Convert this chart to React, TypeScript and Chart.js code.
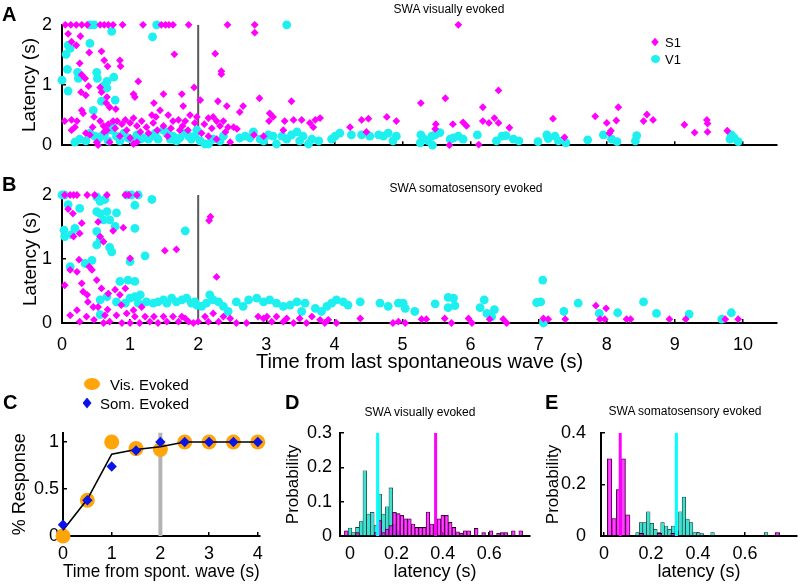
import React, { useEffect, useRef } from 'react';
import { Chart, registerables } from 'chart.js';
Chart.register(...registerables);

const FONT = '"Liberation Sans", Arial, Helvetica, sans-serif';
type P = [number, number];

// ---------- Panel A : SWA visually evoked ----------
const aS1: P[] = [
  [0.05,2],[0.13,2],[0.21,2],[0.29,2],[0.37,2],[0.56,2],[0.62,2],[0.68,2],[0.75,2],[0.89,2],[1.19,2],[1.46,2],[1.52,2],[1.57,2],[1.63,2],[1.86,2],[2.43,2],[2.83,2],[2.83,1.87],[5.82,2],
  [0.09,1.85],[0.14,1.72],[0.21,1.66],[0.27,1.81],[0.40,1.54],[0.58,1.56],[0.62,1.41],[0.67,1.31],[0.85,1.41],[0.86,1.31],[1.65,1.51],[2.25,1.52],[2.34,1.23],[2.34,1.18],
  [0.26,1.36],[0.34,1.11],[0.29,1.17],[0.39,0.98],[0.28,0.88],[0.35,0.83],[0.56,0.96],[0.58,0.88],[0.66,0.80],[0.65,0.70],[0.70,0.63],[0.79,0.60],[1.12,1.06],[1.05,0.85],[1.07,0.80],[1.35,0.70],[1.49,0.85],[1.76,0.85],[1.78,0.65],[1.94,0.96],[2.03,0.75],[2.29,0.73],[2.42,0.65],[2.66,0.65],[2.61,0.55],[2.90,0.78],[3.37,0.73],[3.05,0.53],[3.10,0.47],
  [0.04,0.40],[0.14,0.42],[0.22,0.40],[0.29,0.58],[0.31,0.53],[0.47,0.47],[0.56,0.40],[0.61,0.32],[0.68,0.35],[0.75,0.40],[0.81,0.40],[0.88,0.35],[0.93,0.42],[1.00,0.37],[1.05,0.45],[1.10,0.32],[1.17,0.40],[1.24,0.30],[1.32,0.50],[1.34,0.37],[1.38,0.47],[1.44,0.58],[1.49,0.32],[1.56,0.50],[1.63,0.40],[1.71,0.42],[1.77,0.32],[1.81,0.40],[1.88,0.50],[1.95,0.37],[1.98,0.47],[2.09,0.35],[2.15,0.45],[2.22,0.47],[2.27,0.40],[2.32,0.32],[2.37,0.40],[2.44,0.30],[2.52,0.30],[2.57,0.27],[2.82,0.17],[2.96,0.15],[3.04,0.40],[3.27,0.40],[3.40,0.42],[3.52,0.42],[3.64,0.37],[3.72,0.42],[3.79,0.45],[3.69,0.30],[3.25,0.25],
  [0.14,0.25],[0.19,0.30],[0.41,0.17],[0.51,0.05],[0.53,0.0],[0.70,0.05],[0.66,0.25],[0.85,0.15],[1.05,0.02],[1.10,0.05],[1.27,0.20],[1.73,0.25],[2.15,0.15],[2.27,0.10],[2.47,0.05],
  [0.45,0.30],[0.62,0.22],[0.78,0.28],[0.95,0.25],[1.15,0.22],[1.40,0.25],[1.60,0.28],[1.85,0.25],[2.05,0.20],[2.20,0.28],[2.40,0.22],[0.35,0.20],[1.00,0.12],[1.55,0.15],
  [4.23,0.30],[4.40,0.42],[4.50,0.44],[4.77,0.47],[4.91,0.40],[4.47,0.22],
  [5.27,0.70],[5.63,0.78],[5.48,0.27],[5.49,0.35],[5.69,0.0],[5.74,0.35],[5.89,0.38],[5.94,0.32],[6.12,0.01],[6.18,0.63],[6.18,0.40],[6.27,0.37],[6.35,0.45],[6.41,0.37],[6.41,0.91],[6.57,0.29],[7.21,0.44],[7.38,0.13],[7.83,0.48],[8.00,0.37],[8.06,0.24],[8.04,0.20],[8.14,0.41],[8.17,0.63],[8.54,0.40],[8.59,0.51],[8.68,0.42],[9.14,0.34],[9.29,0.21],[9.47,0.42],[9.48,0.36],[9.48,0.22],[9.77,0.24],
];
const aV1: P[] = [
  [0.41,2],[0.47,2],[1.39,2],[3.30,2],[0.73,1.89],[1.33,1.80],
  [0.0,1.08],[0.06,1.51],[0.09,1.66],[0.12,1.61],[0.08,1.26],[0.09,0.90],[0.41,1.69],[0.51,1.21],[0.52,1.11],[0.66,1.06],[0.76,1.13],[0.78,0.75],[0.58,0.73],[0.46,0.58],[0.23,1.21],[0.24,1.11],[0.61,0.98],[0.66,0.95],
  [0.19,0.05],[0.26,0.10],[0.35,0.07],[0.41,0.20],[0.48,0.15],[0.53,0.10],[0.58,0.15],[0.63,0.20],[0.68,0.07],[0.73,0.25],[0.75,0.30],[0.80,0.15],[0.85,0.07],[0.91,0.20],[0.97,0.12],[1.02,0.10],[1.10,0.17],[1.15,0.10],[1.19,0.12],[1.27,0.10],[1.32,0.15],[1.37,0.20],[1.41,0.10],[1.49,0.25],[1.54,0.20],[1.59,0.10],[1.63,0.15],[1.68,0.07],[1.73,0.12],[1.81,0.20],[1.86,0.15],[1.90,0.10],[1.95,0.15],[1.98,0.25],[2.03,0.07],[2.10,0.02],[2.15,0.02],[2.22,0.10],[2.32,0.07],[2.37,0.15],[2.61,0.12],[2.69,0.15],[2.76,0.12],[2.81,0.22],[2.91,0.10],[2.96,0.07],[3.03,0.17],[3.10,0.15],[3.15,0.02],[3.23,0.15],[3.30,0.10],[3.37,0.17],[3.45,0.22],[3.49,0.07],[3.54,0.15],[3.62,0.02],[3.67,0.10],[3.77,0.07],[3.96,0.10],[4.01,0.15],[4.08,0.20],[4.25,0.17],[4.40,0.17],[4.52,0.15],[4.65,0.17],[4.72,0.15],[4.79,0.20],[4.86,0.07],[4.91,0.15],
  [5.27,0.17],[5.26,0.04],[5.31,0.11],[5.38,0.07],[5.43,0.15],[5.44,0.0],[5.48,0.17],[5.55,0.21],[5.70,0.10],[5.75,0.12],[5.82,0.15],[5.89,0.10],[6.10,0.17],[6.38,0.07],[6.46,0.15],[6.52,0.16],[6.63,0.10],[6.71,0.07],[6.99,0.06],[7.12,0.17],[7.14,0.11],[7.24,0.15],[7.29,0.07],[7.40,0.04],[7.72,0.09],[7.95,0.17],[8.07,0.10],[8.15,0.06],[8.44,0.16],[8.42,0.07],[9.83,0.17],[9.87,0.12],[9.81,0.10],[9.93,0.06],
];

// ---------- Panel B : SWA somatosensory evoked ----------
const bS1: P[] = [
  [0.04,2],[0.12,2],[0.17,2],[0.22,2],[0.37,2],[0.48,2],[0.66,2],[0.93,2],[0.98,2],[1.10,2],
  [0.09,1.78],[0.16,1.71],[0.29,1.56],[0.17,1.35],[0.26,1.40],[0.53,1.58],[0.56,1.35],[0.61,1.27],[0.75,1.44],[0.90,1.49],[1.51,1.13],[1.68,1.15],[2.18,1.66],[2.16,1.60],[2.27,0.72],[1.00,1.01],[0.25,0.99],
  [0.04,0.59],[0.12,0.83],[0.22,0.80],[0.40,0.88],[0.44,0.83],[0.51,0.67],[0.29,0.62],[0.31,0.49],[0.37,0.44],[0.38,0.33],[0.46,0.25],[0.53,0.25],[0.58,0.54],[0.68,0.46],[0.67,0.21],[0.78,0.52],[0.85,0.44],[0.93,0.54],[0.87,0.28],[1.05,0.20],[1.17,0.25],
  [0.12,0.12],[0.22,0.20],[0.26,0.02],[0.36,0.10],[0.47,0.05],[0.61,0.0],[0.63,0.12],[0.70,0.02],[0.80,0.12],[0.88,0.0],[0.95,0.15],[1.00,0.0],[1.07,0.10],[1.14,0.0],[1.22,0.10],[1.29,0.02],[1.35,0.10],[1.41,0.0],[1.49,0.10],[1.54,0.02],[1.63,0.10],[1.71,0.02],[1.76,0.10],[1.81,0.07],[1.86,0.02],[1.93,0.0],[2.00,0.02],[2.10,0.10],[2.15,0.02],[2.22,0.15],[2.30,0.02],[2.37,0.10],[2.47,0.07],[2.56,0.0],[2.71,0.0],[2.88,0.10],[2.96,0.07],[3.01,0.10],[3.08,0.02],[3.15,0.10],[3.25,0.02],[3.30,0.07],[3.40,0.0],[3.49,0.07],[3.59,0.0],[3.67,0.10],[3.79,0.05],[3.86,0.0],[3.91,0.05],[4.03,0.0],[4.38,0.07],[4.86,0.0],[4.94,0.02],
  [5.04,0.0],[5.28,0.06],[5.35,0.06],[5.62,0.07],[5.72,0.0],[5.97,0.07],[6.02,0.0],[6.28,0.06],[6.48,0.06],[6.53,0.0],[7.07,0.07],[7.14,0.06],[7.39,0.06],[7.84,0.27],[7.99,0.23],[7.90,0.06],[7.97,0.06],[8.29,0.06],[8.35,0.06],[8.92,0.06],[9.16,0.06],[9.74,0.06],[9.93,0.06],
];
const bV1: P[] = [
  [0.0,2],[0.04,2],[0.95,2],[1.02,2],[1.12,2],[1.32,1.93],[0.51,1.97],[0.56,1.90],[0.63,1.93],[0.09,1.85],[0.26,1.79],[0.51,1.74],[0.56,1.71],[0.66,1.74],[0.80,1.72],[0.61,1.61],[0.70,1.61],[0.78,1.51],[0.03,1.45],[0.19,1.48],[0.04,1.35],[0.14,1.38],[0.51,1.43],[0.51,1.22],[0.56,1.30],[1.07,1.48],[1.81,1.44],[0.70,1.18],[0.73,1.11],[1.07,1.84],[1.22,1.05],[1.00,0.96],[0.34,0.93],[0.44,0.98],[0.12,0.88],[0.85,0.65],[0.97,0.67],[1.07,0.65],
  [0.56,0.36],[0.66,0.41],[0.80,0.33],[0.93,0.31],[1.00,0.39],[1.07,0.41],[1.15,0.44],[1.12,0.31],[1.24,0.33],[1.34,0.31],[1.41,0.33],[1.49,0.36],[1.54,0.31],[1.61,0.39],[1.68,0.33],[1.76,0.36],[1.83,0.39],[1.90,0.31],[1.95,0.33],[1.98,0.28],[2.05,0.26],[2.12,0.31],[2.17,0.44],[2.22,0.36],[2.30,0.33],[2.37,0.26],[2.44,0.18],[2.56,0.33],[2.66,0.26],[2.74,0.36],[2.86,0.39],[2.96,0.33],[3.05,0.36],[3.15,0.31],[3.25,0.26],[3.35,0.28],[3.45,0.33],[3.52,0.18],[3.57,0.31],[3.72,0.23],[3.81,0.18],[3.89,0.26],[3.96,0.31],[4.03,0.36],[4.13,0.33],[4.20,0.28],[4.38,0.33],[4.67,0.31],[4.79,0.26],[4.94,0.31],[0.56,0.13],
  [5.01,0.31],[5.04,0.23],[5.18,0.18],[5.48,0.30],[5.67,0.40],[5.75,0.39],[5.67,0.24],[5.77,0.27],[6.14,0.24],[6.20,0.36],[6.24,0.15],[6.35,0.21],[6.31,0.10],[6.97,0.32],[7.03,0.33],[7.06,0.67],[7.07,0.0],[7.37,0.18],[7.58,0.31],[7.89,0.15],[8.16,0.16],[8.54,0.33],[8.73,0.15],[9.21,0.14],[9.69,0.06],[9.83,0.16],
];
const abXTicks = [0, 1, 2, 3, 4, 5, 6, 7, 8, 9, 10];
const abYTicks = [0, 1, 2];
const abMarkerX = 2;

// ---------- Panel C ----------
const cTimes = [0, 0.5, 1, 1.5, 2, 2.5, 3, 3.5, 4];
const cVis = [0, 0.38, 1.0, 0.93, 0.92, 1, 1, 1, 1];
const cSom = [0.12, 0.38, 0.74, 0.91, 1.0, 1, 1, 1, 1];
const cMean = [0.06, 0.39, 0.87, 0.92, 0.95, 1, 1, 1, 1];
const cXTicks = [0, 1, 2, 3, 4];
const cYTicks = [0, 0.5, 1];
const cMarkerX = 2;

// ---------- Panel D (visually evoked latency histograms) ----------
const dV1Start = -0.008, dV1Width = 0.016;
const dV1 = [0.023, 0.01, 0.025, 0.042, 0.19, 0.064, 0.069, 0.03, 0.122, 0.064, 0.085, 0.14, 0.035, 0.015];
const dS1Start = -0.024, dS1Width = 0.016;
const dS1 = [0.015, 0, 0, 0.01, 0, 0, 0, 0, 0.01, 0.045, 0.01, 0.02, 0.03, 0.069, 0.065, 0.06, 0.05, 0.05, 0.035, 0.025, 0.025, 0.025, 0.07, 0.035, 0.033, 0.05, 0.06, 0.06, 0.04, 0.025, 0.012, 0.008, 0.015, 0.015, 0, 0.022, 0, 0.01, 0, 0.015, 0, 0.008, 0.01, 0.01, 0, 0.015, 0, 0.015];
const dV1Median = 0.119;
const dS1Median = 0.369;
const dXTicks = [0, 0.2, 0.4, 0.6];
const dYTicks = [0, 0.1, 0.2, 0.3];

// ---------- Panel E (somatosensory evoked latency histograms) ----------
const eV1Start = 0.135, eV1Width = 0.0152;
const eV1 = [0.013, 0.052, 0.052, 0.094, 0.049, 0.026, 0.013, 0.052, 0.039, 0.026, 0.039, 0.02, 0.094, 0.151, 0.066, 0.052, 0.013, 0.013, 0.009, 0, 0, 0.013, 0, 0, 0, 0, 0, 0, 0, 0, 0, 0, 0, 0, 0, 0, 0.013];
const eS1Start = 0.014, eS1Width = 0.0193;
const eS1 = [0.30, 0.068, 0.18, 0.30, 0.082, 0, 0, 0.01, 0, 0, 0, 0.01, 0, 0, 0.01, 0, 0, 0, 0, 0, 0, 0, 0, 0, 0, 0, 0, 0, 0, 0, 0, 0, 0, 0, 0, 0, 0, 0.013];
const eV1Median = 0.308;
const eS1Median = 0.069;
const eXTicks = [0, 0.2, 0.4, 0.6];
const eYTicks = [0, 0.2, 0.4];

// ---------- colours ----------
const MAG = '#ff00ff';
const CYA = 'rgb(30,240,240)';
const HIST_CYA = 'rgb(64,224,208)';
const HIST_MAG = 'rgba(255,0,255,0.75)';
const HIST_EDGE = '#000';

// ---------- helpers ----------
type Box = { cl: number; ct: number; cw: number; ch: number; L: number; T: number; R: number; B: number };

const pts = (arr: P[]) => arr.map(([x, y]) => ({ x, y }));
const hist = (start: number, width: number, h: number[]) =>
  h.map((v, i) => ({ x: start + width * (i + 0.5), y: v })).filter((p) => p.y > 0);
const vline = (x: number, y0: number, y1: number) => [{ x, y: y0 }, { x, y: y1 }];
const fixedTicks = (ticks: number[]) => (s: any) => { s.ticks = ticks.map((v) => ({ value: v })); };

function axis(o: {
  min: number; max: number; ticks: number[]; labels: boolean; pad: number; fit: (s: any) => void;
  title?: string; tSize?: number; tPad?: any; display?: boolean; position?: string;
}) {
  return {
    type: 'linear',
    position: o.position,
    display: o.display === undefined ? true : o.display,
    min: o.min,
    max: o.max,
    offset: false,
    afterBuildTicks: fixedTicks(o.ticks),
    afterFit: o.fit,
    ticks: {
      display: o.labels, padding: o.pad, color: '#000', autoSkip: false, maxRotation: 0,
      font: { family: FONT, size: 18 }, callback: (v: any) => String(v),
    },
    grid: { display: true, offset: false, drawOnChartArea: false, drawTicks: true, tickLength: -4, color: '#000', lineWidth: 1.5 },
    border: { display: true, color: '#000', width: 2 },
    title: o.title
      ? { display: true, text: o.title, color: '#000', font: { family: FONT, size: o.tSize || 18 }, padding: o.tPad }
      : { display: false },
  };
}

function baseOptions(b: Box, scales: any) {
  return {
    responsive: false,
    maintainAspectRatio: false,
    animation: false,
    events: [],
    layout: { padding: { left: 0, top: b.T - b.ct, right: b.cl + b.cw - b.R, bottom: 0 } },
    plugins: { legend: { display: false }, tooltip: { enabled: false }, title: { display: false } },
    scales,
  };
}
const fitW = (b: Box) => (s: any) => { s.width = b.L - b.cl; };
const fitH = (b: Box) => (s: any) => { s.height = b.ct + b.ch - b.B; };

// ---------- chart configs ----------
function scatterConfig(b: Box, s1: P[], v1: P[], showX: boolean, yTitlePad: number) {
  return {
    type: 'scatter',
    data: {
      datasets: [
        { data: pts(s1), pointStyle: 'rectRot', pointRadius: 3.9, backgroundColor: MAG, borderWidth: 0, clip: false },
        { data: pts(v1), pointStyle: 'circle', pointRadius: 4.4, backgroundColor: CYA, borderWidth: 0, clip: false },
        { data: vline(abMarkerX, 0, 2), showLine: true, borderColor: '#5a5a5a', borderWidth: 2, pointRadius: 0 },
      ],
    },
    options: baseOptions(b, {
      x: axis({
        min: 0, max: 10.5, ticks: abXTicks, labels: showX, pad: 15, fit: fitH(b),
        title: showX ? 'Time from last spontaneous wave (s)' : undefined, tSize: 20, tPad: { top: 0, bottom: 6 },
      }),
      y: axis({ min: 0, max: 2, ticks: abYTicks, labels: true, pad: 14, fit: fitW(b), title: 'Latency (s)', tSize: 19, tPad: { top: yTitlePad, bottom: 0 } }),
    }),
  };
}

function configC(b: Box) {
  return {
    type: 'line',
    data: {
      datasets: [
        { data: cTimes.map((x, i) => ({ x, y: cSom[i] })), showLine: false, pointStyle: 'rectRot', pointRadius: 5.2, backgroundColor: '#0a14e6', borderWidth: 0, clip: false },
        { data: cTimes.map((x, i) => ({ x, y: cMean[i] })), borderColor: '#000', borderWidth: 1.6, pointRadius: 0, clip: false },
        { data: cTimes.map((x, i) => ({ x, y: cVis[i] })), showLine: false, pointStyle: 'circle', pointRadius: 7.5, backgroundColor: '#ffa50a', borderWidth: 0, clip: false },
        { data: vline(cMarkerX, 0, 1.1), borderColor: '#b4b4b4', borderWidth: 4, pointRadius: 0 },
      ],
    },
    options: baseOptions(b, {
      x: axis({ min: 0, max: 4.04, ticks: cXTicks, labels: true, pad: 11, fit: fitH(b), title: 'Time from spont. wave (s)', tSize: 19, tPad: { top: 0, bottom: 0.6 } }),
      y: axis({ min: 0, max: 1.1, ticks: cYTicks, labels: true, pad: 8, fit: fitW(b), title: '% Response', tSize: 18, tPad: { top: 9.2, bottom: 0 } }),
    }),
  };
}

function histConfig(b: Box, o: {
  xmin: number; xmax: number; ymax: number; xTicks: number[]; yTicks: number[]; yPad: number;
  v1: { x: number; y: number }[]; s1: { x: number; y: number }[]; v1Med: number; s1Med: number;
}) {
  return {
    type: 'bar',
    data: {
      datasets: [
        { type: 'line', data: vline(o.s1Med, 0, o.ymax), borderColor: MAG, borderWidth: 3, pointRadius: 0, xAxisID: 'x' },
        { type: 'line', data: vline(o.v1Med, 0, o.ymax), borderColor: '#00ffff', borderWidth: 3, pointRadius: 0, xAxisID: 'x' },
        { type: 'bar', data: o.s1, xAxisID: 'x2', backgroundColor: HIST_MAG, borderColor: HIST_EDGE, borderWidth: 0.55, grouped: false, categoryPercentage: 1, barPercentage: 1 },
        { type: 'bar', data: o.v1, xAxisID: 'x', backgroundColor: HIST_CYA, borderColor: HIST_EDGE, borderWidth: 0.55, grouped: false, categoryPercentage: 1, barPercentage: 1 },
      ],
    },
    options: baseOptions(b, {
      x: axis({ min: o.xmin, max: o.xmax, ticks: o.xTicks, labels: true, pad: 11, fit: fitH(b), title: 'latency (s)', tSize: 18, tPad: { top: 0, bottom: 1.2 }, position: 'bottom' }),
      x2: {
        type: 'linear', display: false, position: 'bottom', min: o.xmin, max: o.xmax, offset: false,
        grid: { offset: false }, afterBuildTicks: fixedTicks(o.xTicks),
      },
      y: axis({ min: 0, max: o.ymax, ticks: o.yTicks, labels: true, pad: o.yPad, fit: fitW(b), title: 'Probability', tSize: 17, tPad: { top: 7.8, bottom: 0 } }),
    }),
  };
}

// ---------- boxes (canvas + plot area in page pixels) ----------
const boxA: Box = { cl: 0, ct: 0, cw: 800, ch: 170, L: 62, T: 21, R: 777, B: 153 };
const boxB: Box = { cl: 0, ct: 160, cw: 800, ch: 220, L: 62, T: 195, R: 777, B: 323 };
const boxC: Box = { cl: 0, ct: 400, cw: 275, ch: 184, L: 63, T: 432.6, R: 259.7, B: 536 };
const boxD: Box = { cl: 275, ct: 400, cw: 260, ch: 184, L: 340, T: 433, R: 530, B: 536 };
const boxE: Box = { cl: 535, ct: 400, cw: 265, ch: 184, L: 601, T: 433, R: 797, B: 536 };

function ChartCanvas({ box, make }: { box: Box; make: () => any }) {
  const ref = useRef<HTMLCanvasElement | null>(null);
  useEffect(() => {
    if (!ref.current) return;
    const chart = new Chart(ref.current, make());
    return () => chart.destroy();
  }, []);
  return (
    <canvas
      ref={ref}
      width={box.cw}
      height={box.ch}
      style={{ position: 'absolute', left: box.cl, top: box.ct, width: box.cw, height: box.ch }}
    />
  );
}

function Txt({ x, base, size, bold, center, children }: any) {
  return (
    <div
      style={{
        position: 'absolute', left: x, top: base - 0.8465 * size, fontSize: size, lineHeight: `${size}px`,
        fontFamily: FONT, fontWeight: bold ? 700 : 400, whiteSpace: 'nowrap', color: '#000',
        transform: center ? 'translateX(-50%)' : undefined,
      }}
    >
      {children}
    </div>
  );
}

function Mark({ cx, cy, w, h, color, diamond }: any) {
  return (
    <div
      style={{
        position: 'absolute', left: cx - w / 2, top: cy - h / 2, width: w, height: h, background: color,
        borderRadius: diamond ? 0 : '50%',
        clipPath: diamond ? 'polygon(50% 0, 100% 50%, 50% 100%, 0 50%)' : undefined,
      }}
    />
  );
}

export default function App() {
  return (
    <div style={{ position: 'fixed', left: 0, top: 0, width: 800, height: 584, background: '#fff', overflow: 'hidden' }}>
      <ChartCanvas box={boxA} make={() => scatterConfig(boxA, aS1, aV1, false, 18.6)} />
      <ChartCanvas box={boxB} make={() => scatterConfig(boxB, bS1, bV1, true, 19.6)} />
      <ChartCanvas box={boxC} make={() => configC(boxC)} />
      <ChartCanvas
        box={boxD}
        make={() => histConfig(boxD, {
          xmin: -0.0431, xmax: 0.7759, ymax: 0.3, xTicks: dXTicks, yTicks: dYTicks, yPad: 12,
          v1: hist(dV1Start, dV1Width, dV1), s1: hist(dS1Start, dS1Width, dS1), v1Med: dV1Median, s1Med: dS1Median,
        })}
      />
      <ChartCanvas
        box={boxE}
        make={() => histConfig(boxE, {
          xmin: -0.0128, xmax: 0.8213, ymax: 0.4, xTicks: eXTicks, yTicks: eYTicks, yPad: 19,
          v1: hist(eV1Start, eV1Width, eV1), s1: hist(eS1Start, eS1Width, eS1), v1Med: eV1Median, s1Med: eS1Median,
        })}
      />

      {/* panel letters */}
      <Txt x={2} base={20.5} size={20} bold>A</Txt>
      <Txt x={2} base={191} size={20} bold>B</Txt>
      <Txt x={3} base={408.5} size={20} bold>C</Txt>
      <Txt x={285} base={408.5} size={20} bold>D</Txt>
      <Txt x={545} base={408.5} size={20} bold>E</Txt>

      {/* panel titles */}
      <Txt x={449} base={13.3} size={12} center>SWA visually evoked</Txt>
      <Txt x={466} base={192.5} size={12} center>SWA somatosensory evoked</Txt>
      <Txt x={420} base={416.5} size={12} center>SWA visually evoked</Txt>
      <Txt x={685} base={415} size={12} center>SWA somatosensory evoked</Txt>

      {/* legend A */}
      <Mark cx={655} cy={42} w={7.5} h={8.5} color={MAG} diamond />
      <Txt x={665} base={46.7} size={13}>S1</Txt>
      <Mark cx={655} cy={59} w={9} h={8} color={CYA} />
      <Txt x={665} base={63.7} size={13}>V1</Txt>

      {/* legend C */}
      <Mark cx={92} cy={384} w={16} h={12} color="#ffa50a" />
      <Txt x={110} base={389.4} size={15}>Vis. Evoked</Txt>
      <Mark cx={87} cy={403} w={9} h={11} color="#0a14e6" diamond />
      <Txt x={100} base={408.4} size={15}>Som. Evoked</Txt>
    </div>
  );
}
